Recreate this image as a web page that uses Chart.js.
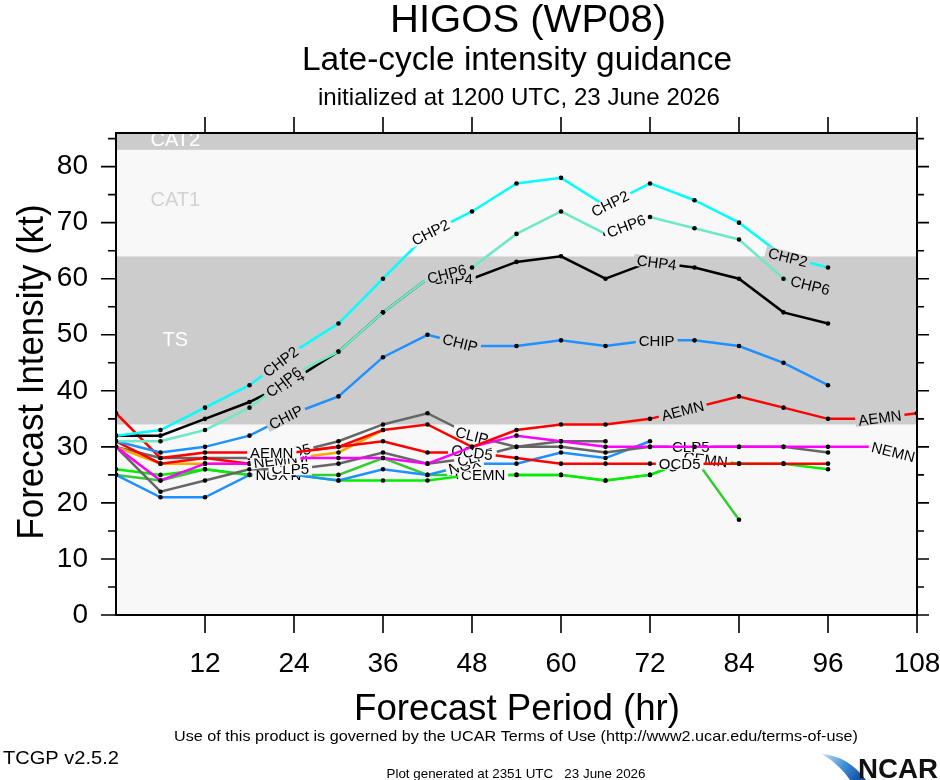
<!DOCTYPE html>
<html><head><meta charset="utf-8">
<script src="https://cdn.jsdelivr.net/npm/chart.js@4.4.0/dist/chart.umd.min.js"></script>
<style>html,body{margin:0;padding:0;background:#fff;}canvas{display:block;}</style>
</head><body>
<canvas id="c" width="940" height="780"></canvas>
<script>
// ---------- data ----------
const hours  = [0,6,12,18,24,30,36,42,48,54,60,66,72,78,84,90,96,102,108];
const xTicks = [12,24,36,48,60,72,84,96,108];
const yTicks = [0,10,20,30,40,50,60,70,80];
const yMinor = [5,15,25,35,45,55,65,75,85];

const bandNames = ['TS','CAT1','CAT2'];
const bandFrom  = [34,64,83];
const bandTo    = [64,83,86];

const CHP2 = [32,33,37,41,47,52,60,68,72,77,78,73,77,74,70,64,62];
const CHP6 = [31,31,33,37,43,47,54,60,62,68,72,68,71,69,67,60,58];
const CHP4 = [32,32,35,38,42,47,54,60,60,63,64,60,63,62,60,54,52];
const CHIP = [31,29,30,32,36,39,46,50,48,48,49,48,49,49,48,45,41];
const AEMN = [36,28,29,29,29,30,33,34,30,33,34,34,35,37,39,37,35,35,36];
const OCD5 = [31,27,28,27,29,30,31,29,29,28,27,27,27,27,27,27,27];
const LGEM = [30,27,27,27,28,29,33];
const NEMN = [30,24,27,27,28,28,28,27,30,32,31,30,30,30,30,30,30,30,28];
const CLIP = [30,28,28,28,29,31,34,36,32,30,31,31];
const CLP5 = [30,22,24,26,26,27,29,27,28,30,30,29,30,30,30,30,29];
const NGX  = [25,21,21,25,25,24,26,25,27,27,29,28,31];
const CEMN = [26,25,26,25,25,24,24,24,25,25,25,24,25,28,27,27,26];
const CMC  = [25,24,26,25,25,25,28,25,25,25,25,24,25,28,17];

const seriesNames = ['CHP2','CHP6','CHP4','CHIP','AEMN','NEMN','OCD5','LGEM','CLIP','CLP5','NGX','CEMN','CMC'];
const seriesVals  = {CHP2,CHP6,CHP4,CHIP,AEMN,OCD5,LGEM,NEMN,CLIP,CLP5,NGX,CEMN,CMC};

// ---------- styles ----------
const lineColors = {
  CHP2:'#00ffff', CHP6:'#6fe8c6', CHP4:'#000000', CHIP:'#1e90ff',
  AEMN:'#ff0000', OCD5:'#ff0000', LGEM:'#ffa500', NEMN:'#ff00ff',
  CLIP:'#666666', CLP5:'#666666', NGX:'#1e90ff', CEMN:'#00ee00', CMC:'#33cc33'
};
const labelHours = {
  CHP2:[22.2,42.4,66.6,90.6], CHP6:[22.6,44.6,68.8,93.6], CHP4:[22.9,45.4,72.9],
  CHIP:[22.9,46.4,72.9], AEMN:[21,76.4,103], NEMN:[21.5,104.8], NGX:[21,47],
  CEMN:[22,49.5,79.5], CMC:[21.5,48,76.5], OCD5:[23.5,48,76], CLP5:[23.5,48.5,77.5],
  CLIP:[48], LGEM:[23]
};
const bandFill  = ['#cccccc','#f8f8f8','#cccccc'];
const baseFill  = '#f8f8f8';
const bandText  = ['#ffffff','#d2d2d2','#ffffff'];
const bandLabelAt = [[8,49],[8,74],[8,84.7]];
const FONT = '"Liberation Sans", Arial, Helvetica, sans-serif';

function bandColorAt(v){
  for (let i=0;i<bandFrom.length;i++) if (v>=bandFrom[i] && v<bandTo[i]) return bandFill[i];
  return baseFill;
}

function fitText(ctx, text, x, y, size, width, align, weight){
  ctx.save();
  ctx.font = (weight||'') + ' ' + size + 'px ' + FONT;
  const w = ctx.measureText(text).width;
  const sx = width ? width / w : 1;
  ctx.translate(x, y);
  ctx.scale(sx, 1);
  ctx.textAlign = align || 'center';
  ctx.textBaseline = 'alphabetic';
  ctx.fillText(text, 0, 0);
  ctx.restore();
}

const bandPlugin = {
  id:'bands',
  beforeDatasetsDraw(chart){
    const {ctx, chartArea:a, scales:{x,y}} = chart;
    ctx.save();
    ctx.beginPath(); ctx.rect(a.left,a.top,a.right-a.left,a.bottom-a.top); ctx.clip();
    ctx.fillStyle = baseFill;
    ctx.fillRect(a.left,a.top,a.right-a.left,a.bottom-a.top);
    for (let i=0;i<bandFrom.length;i++){
      const y1 = y.getPixelForValue(bandTo[i]), y0 = y.getPixelForValue(bandFrom[i]);
      ctx.fillStyle = bandFill[i];
      ctx.fillRect(a.left, y1, a.right-a.left, y0-y1);
    }
    ctx.font = '20px ' + FONT;
    ctx.textAlign='center'; ctx.textBaseline='middle';
    for (let i=0;i<bandNames.length;i++){
      ctx.fillStyle = bandText[i];
      ctx.fillText(bandNames[i], x.getPixelForValue(bandLabelAt[i][0]), y.getPixelForValue(bandLabelAt[i][1]));
    }
    ctx.restore();
  },
  afterDatasetDraw(chart, args){
    const ds = chart.data.datasets[args.index];
    const name = ds.label, vals = seriesVals[name], hs = labelHours[name] || [];
    const {ctx, chartArea:a, scales:{x,y}} = chart;
    ctx.save();
    ctx.beginPath(); ctx.rect(a.left,a.top,a.right-a.left,a.bottom-a.top); ctx.clip();
    ctx.font = '15px ' + FONT;
    for (const h of hs){
      const i = Math.min(Math.floor(h/6), vals.length-2);
      const t = (h - hours[i]) / 6;
      const v = vals[i] + (vals[i+1]-vals[i]) * t;
      const px = x.getPixelForValue(h), py = y.getPixelForValue(v);
      const dx = x.getPixelForValue(hours[i+1]) - x.getPixelForValue(hours[i]);
      const dy = y.getPixelForValue(vals[i+1]) - y.getPixelForValue(vals[i]);
      const ang = Math.atan2(dy, dx);
      const w = ctx.measureText(name).width;
      ctx.save();
      ctx.translate(px, py); ctx.rotate(ang);
      ctx.fillStyle = bandColorAt(v);
      ctx.fillRect(-w/2-3, -6, w+6, 12);
      ctx.fillStyle = '#000'; ctx.textAlign='center'; ctx.textBaseline='middle';
      ctx.fillText(name, 0, 1);
      ctx.restore();
    }
    ctx.restore();
  },
  afterDraw(chart){
    const {ctx, chartArea:a, scales:{x,y}} = chart;
    ctx.save();
    // frame
    ctx.strokeStyle='#000'; ctx.lineWidth=2;
    ctx.strokeRect(a.left, a.top, a.right-a.left, a.bottom-a.top);
    // ticks
    ctx.lineWidth = 1.6;
    ctx.beginPath();
    for (const v of yTicks){ const p=y.getPixelForValue(v);
      ctx.moveTo(a.left-15,p); ctx.lineTo(a.left,p); ctx.moveTo(a.right,p); ctx.lineTo(a.right+12,p); }
    for (const v of yMinor){ const p=y.getPixelForValue(v);
      ctx.moveTo(a.left-8,p); ctx.lineTo(a.left,p); ctx.moveTo(a.right,p); ctx.lineTo(a.right+7,p); }
    for (const v of xTicks){ const p=x.getPixelForValue(v);
      ctx.moveTo(p,a.bottom); ctx.lineTo(p,a.bottom+18); ctx.moveTo(p,a.top); ctx.lineTo(p,a.top-16); }
    ctx.stroke();
    // titles
    ctx.fillStyle='#000';
    fitText(ctx,'HIGOS (WP08)', 528, 32, 39, 276);
    fitText(ctx,'Late-cycle intensity guidance', 517, 70, 33, 430);
    fitText(ctx,'initialized at 1200 UTC, 23 June 2026', 519, 105, 24, 402);
    fitText(ctx,'Forecast Period (hr)', 517, 720, 36, 326);
    ctx.save(); ctx.translate(43, 372); ctx.rotate(-Math.PI/2);
    fitText(ctx,'Forecast Intensity (kt)', 0, 0, 36, 335);
    ctx.restore();
    fitText(ctx,'Use of this product is governed by the UCAR Terms of Use (http://www2.ucar.edu/terms-of-use)', 516, 741, 15, 684);
    fitText(ctx,'TCGP v2.5.2', 3, 764, 19, 116, 'left');
    fitText(ctx,'Plot generated at 2351 UTC   23 June 2026', 516, 778, 13, 259);
    // NCAR logo
    const g = ctx.createLinearGradient(822,752,866,780);
    g.addColorStop(0,'#cfe3f5'); g.addColorStop(0.5,'#3d8fd6'); g.addColorStop(1,'#0b3d91');
    ctx.fillStyle = g;
    ctx.beginPath(); ctx.moveTo(822,754); ctx.quadraticCurveTo(848,756,866,780); ctx.lineTo(850,780); ctx.quadraticCurveTo(840,765,822,754); ctx.fill();
    ctx.fillStyle='#111';
    fitText(ctx,'NCAR', 898, 778, 27, 80, 'center', 'bold');
    ctx.restore();
  }
};

const datasets = seriesNames.map(n => ({
  label: n,
  data: seriesVals[n].map((v,i) => ({x: hours[i], y: v})),
  borderColor: lineColors[n],
  borderWidth: 2.5,
  pointRadius: 2.3,
  pointBackgroundColor: '#000',
  pointBorderWidth: 0,
  tension: 0,
  fill: false
}));

new Chart(document.getElementById('c'), {
  type: 'line',
  data: { datasets },
  options: {
    responsive: false, animation: false, devicePixelRatio: 1,
    layout: { padding: { top: 133, right: 23, left: 0, bottom: 0 } },
    plugins: { legend:{display:false}, title:{display:false}, tooltip:{enabled:false} },
    scales: {
      x: { type:'linear', min:0, max:108, position:'bottom',
           afterBuildTicks: s => { s.ticks = xTicks.map(v => ({value:v})); },
           afterFit: s => { s.height = 165; s.paddingLeft = 0; s.paddingRight = 0; },
           grid:{display:false, drawTicks:false}, border:{display:false},
           ticks:{ font:{family:FONT, size:28}, color:'#000', padding:32, maxRotation:0, autoSkip:false } },
      y: { type:'linear', min:0, max:86, position:'left',
           afterBuildTicks: s => { s.ticks = yTicks.map(v => ({value:v})); },
           afterFit: s => { s.width = 116; s.paddingTop = 0; s.paddingBottom = 0; },
           grid:{display:false, drawTicks:false}, border:{display:false},
           ticks:{ font:{family:FONT, size:28}, color:'#000', padding:28 } }
    }
  },
  plugins: [bandPlugin]
});
</script>
</body></html>
